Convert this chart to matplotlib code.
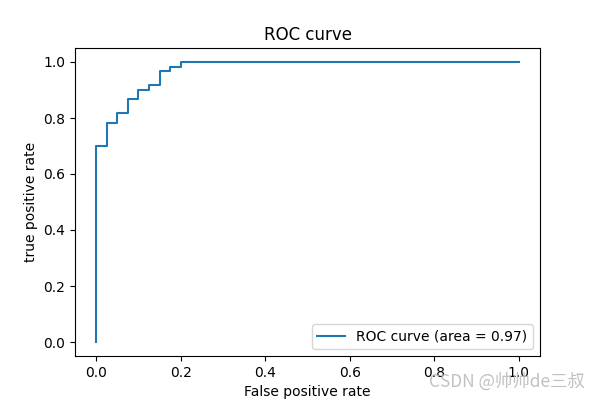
import matplotlib
matplotlib.use("Agg")
import matplotlib.pyplot as plt

# ROC points as returned by roc_curve (step shape)
fpr = [0.0, 0.0, 0.025, 0.025, 0.05, 0.05, 0.075, 0.075, 0.1, 0.1,
       0.125, 0.125, 0.15, 0.15, 0.175, 0.175, 0.2, 0.2, 1.0]
tpr = [0.0, 0.70, 0.70, 0.783, 0.783, 0.817, 0.817, 0.867, 0.867, 0.90,
       0.90, 0.917, 0.917, 0.967, 0.967, 0.983, 0.983, 1.0, 1.0]
roc_auc = 0.97

fig = plt.figure(figsize=(6, 4), dpi=100)
plt.plot(fpr, tpr, label="ROC curve (area = %0.2f)" % roc_auc)
plt.xlabel("False positive rate")
plt.ylabel("true positive rate")
plt.title("ROC curve")
plt.legend(loc="lower right")

# site watermark, bottom right
fig.text(0.975, 0.045, "CSDN @帅帅de三叔", ha="right", va="center",
         fontsize=12.5, color="#bbbbbb", alpha=0.9,
         family=["Noto Sans CJK SC", "DejaVu Sans"])

fig.savefig("out.png")
